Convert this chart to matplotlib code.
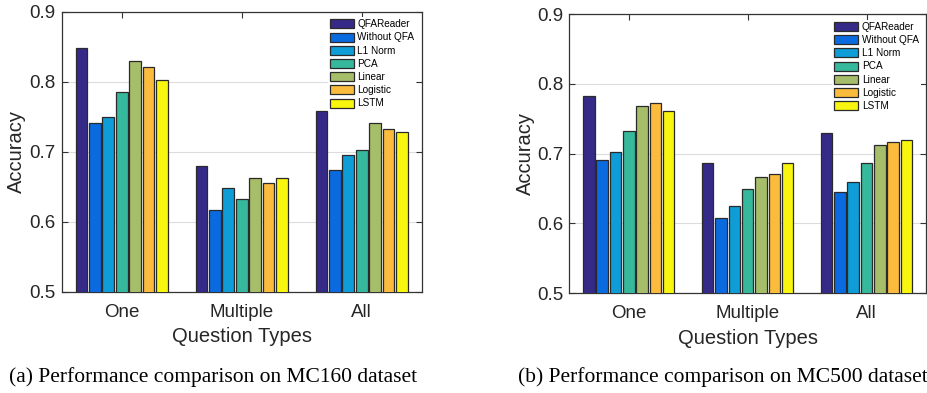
import matplotlib
matplotlib.use("Agg")
import matplotlib.pyplot as plt
import numpy as np

categories = ["One", "Multiple", "All"]
methods = ["QFAReader", "Without QFA", "L1 Norm", "PCA", "Linear", "Logistic", "LSTM"]
colors = ["#352A87", "#0A6BE0", "#0E9DD6", "#35B89B", "#A6BE6A", "#FBBB3D", "#F8F50E"]

# MC160 values: one list per method, entries follow categories
mc160_qfareader = [0.848, 0.680, 0.758]
mc160_without = [0.741, 0.617, 0.674]
mc160_l1 = [0.750, 0.648, 0.695]
mc160_pca = [0.785, 0.632, 0.703]
mc160_linear = [0.830, 0.663, 0.741]
mc160_logistic = [0.821, 0.656, 0.733]
mc160_lstm = [0.803, 0.663, 0.728]

# MC500 values
mc500_qfareader = [0.783, 0.686, 0.730]
mc500_without = [0.691, 0.607, 0.645]
mc500_l1 = [0.702, 0.625, 0.660]
mc500_pca = [0.732, 0.649, 0.687]
mc500_linear = [0.768, 0.667, 0.713]
mc500_logistic = [0.772, 0.671, 0.717]
mc500_lstm = [0.761, 0.686, 0.720]

yticks = [0.5, 0.6, 0.7, 0.8, 0.9]
captions = ["(a) Performance comparison on MC160 dataset",
            "(b) Performance comparison on MC500 dataset"]

mc160 = [mc160_qfareader, mc160_without, mc160_l1, mc160_pca, mc160_linear, mc160_logistic, mc160_lstm]
mc500 = [mc500_qfareader, mc500_without, mc500_l1, mc500_pca, mc500_linear, mc500_logistic, mc500_lstm]

plt.rcParams['font.family'] = ['Liberation Sans', 'DejaVu Sans']

W, H = 927, 393
fig = plt.figure(figsize=(W / 100, H / 100), dpi=100)


def px_axes(x0, y0, x1, y1):
    return fig.add_axes([x0 / W, 1 - y1 / H, (x1 - x0) / W, (y1 - y0) / H])


def draw(ax, data, ylabel_x):
    x = np.arange(1, len(categories) + 1)
    step = 0.112
    width = 0.097
    for i, (name, vals) in enumerate(zip(methods, data)):
        ax.bar(x + (i - 3) * step, vals, width=width, color=colors[i],
               edgecolor="#2a2a2a", linewidth=0.9, label=name, zorder=3)
    ax.set_xlim(0.5, 3.5)
    ax.set_ylim(0.5, 0.9)
    ax.set_xticks(x)
    ax.set_xticklabels(categories)
    ax.set_yticks(yticks)
    ax.set_yticklabels([f"{v:.1f}" for v in yticks])
    ax.tick_params(axis="both", direction="in", labelsize=13.5, top=True, right=True,
                   length=4, width=0.8, color="#333333", labelcolor="#262626")
    ax.tick_params(axis="x", pad=8.5)
    ax.tick_params(axis="y", pad=4.5)
    ax.yaxis.grid(True, color="#dcdcdc", linewidth=0.8, zorder=0)
    ax.set_axisbelow(True)
    for s in ax.spines.values():
        s.set_color("#333333")
        s.set_linewidth(0.9)
    ax.set_xlabel("Question Types", fontsize=14.5, labelpad=5, color="#262626")
    ax.set_ylabel("Accuracy", fontsize=14.5, color="#262626")
    ax.yaxis.set_label_coords(ylabel_x, 0.5)
    leg = ax.legend(loc="upper right", bbox_to_anchor=(0.985, 0.98), fontsize=7.2,
                    frameon=True, facecolor="white", edgecolor="none", framealpha=1,
                    handlelength=2.4, handleheight=1.0, labelspacing=0.32,
                    handletextpad=0.35, borderpad=0.2, borderaxespad=0.0)
    leg.set_zorder(5)


ax1 = px_axes(61.7, 11.7, 421.7, 291.7)
draw(ax1, mc160, -0.100)
ax2 = px_axes(569.3, 14.3, 926.0, 293.0)
draw(ax2, mc500, -0.097)

fig.text(213 / W, 1 - 377 / H, captions[0], ha="center", va="center",
         fontsize=15.5, family=["Liberation Serif", "DejaVu Serif"])
fig.text(723 / W, 1 - 377 / H, captions[1], ha="center", va="center",
         fontsize=15.5, family=["Liberation Serif", "DejaVu Serif"])

fig.savefig("out.png", dpi=100)
